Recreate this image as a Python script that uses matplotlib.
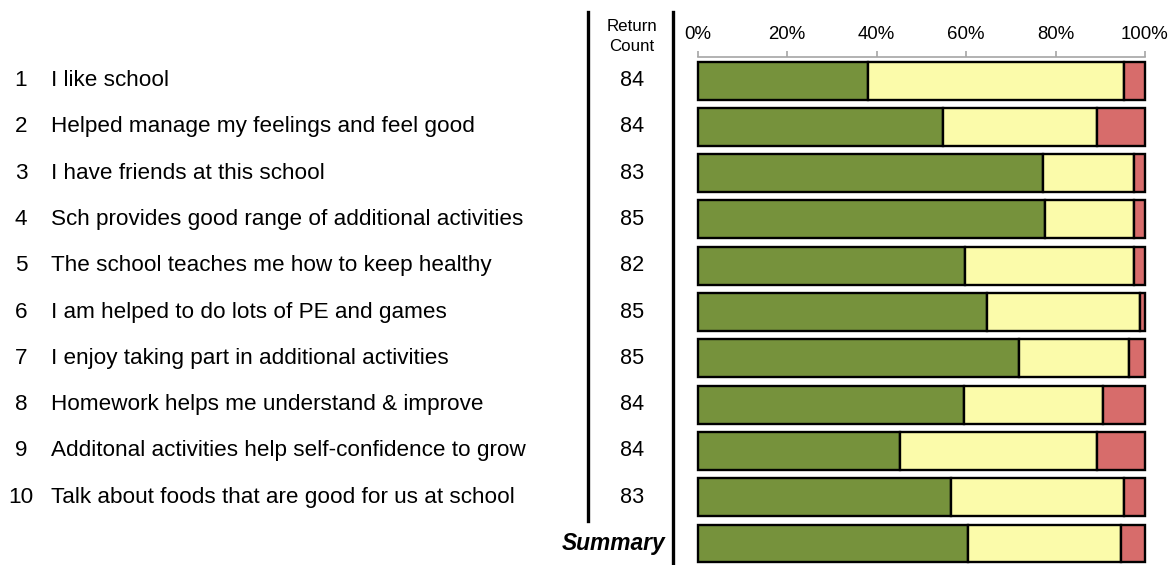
import matplotlib
matplotlib.use("Agg")
import matplotlib.pyplot as plt
from matplotlib.lines import Line2D
from matplotlib.transforms import blended_transform_factory

plt.rcParams["font.family"] = ["Liberation Sans", "DejaVu Sans"]

W, H = 1172, 565

labels = [
    "I like school",
    "Helped manage my feelings and feel good",
    "I have friends at this school",
    "Sch provides good range of additional activities",
    "The school teaches me how to keep healthy",
    "I am helped to do lots of PE and games",
    "I enjoy taking part in additional activities",
    "Homework helps me understand & improve",
    "Additonal activities help self-confidence to grow",
    "Talk about foods that are good for us at school",
]
counts = [84, 84, 83, 85, 82, 85, 85, 84, 84, 83]
# percentages per row, last entry = summary
agree = [38.1, 54.8, 77.1, 77.6, 59.8, 64.7, 71.8, 59.5, 45.2, 56.6, 60.4]
neutral = [57.1, 34.5, 20.5, 20.0, 37.8, 34.1, 24.7, 31.0, 44.0, 38.6, 34.2]
disagree = [4.8, 10.7, 2.4, 2.4, 2.4, 1.2, 3.5, 9.5, 10.8, 4.8, 5.4]

GREEN = "#76923c"
YELLOW = "#fbfbaa"
RED = "#d76c6b"
GREY = "#a6a6a6"

fig = plt.figure(figsize=(W / 100, H / 100), dpi=100)
ax = fig.add_axes([697.7 / W, 0.0, (1145 - 697.7) / W, 1 - 57 / H])

rows = list(range(len(agree)))
h = 0.82
ax.barh(rows, agree, height=h, color=GREEN, edgecolor="black", linewidth=1.7, clip_on=False)
ax.barh(rows, neutral, left=agree, height=h, color=YELLOW, edgecolor="black",
        linewidth=1.7, clip_on=False)
left2 = [a + n for a, n in zip(agree, neutral)]
ax.barh(rows, disagree, left=left2, height=h, color=RED, edgecolor="black",
        linewidth=1.7, clip_on=False)

ax.set_xlim(0, 100)
ax.set_ylim(10.464, -0.508)
ax.xaxis.tick_top()
ax.set_xticks([0, 20, 40, 60, 80, 100])
ax.set_xticklabels(["0%", "20%", "40%", "60%", "80%", "100%"], fontsize=13.4)
ax.tick_params(axis="x", direction="out", length=4, color=GREY, width=1.2, pad=6)
ax.set_yticks([])
for s in ["left", "right", "bottom"]:
    ax.spines[s].set_visible(False)
ax.spines["top"].set_color(GREY)
ax.spines["top"].set_linewidth(1.2)
ax.patch.set_alpha(0)

tr = blended_transform_factory(fig.transFigure, ax.transData)
for i, (lab, c) in enumerate(zip(labels, counts)):
    ax.text(21 / W, i, str(i + 1), transform=tr, ha="center", va="center", fontsize=16.2)
    ax.text(51 / W, i, lab, transform=tr, ha="left", va="center", fontsize=16.2)
    ax.text(632 / W, i, str(c), transform=tr, ha="center", va="center", fontsize=15.6)
ax.text(665 / W, len(labels), "Summary", transform=tr, ha="right", va="center",
        fontsize=16.4, fontweight="bold", fontstyle="italic")

fig.text(632 / W, 1 - 36.5 / H, "Return\nCount", ha="center", va="center",
         fontsize=12.2, linespacing=1.45)

fig.add_artist(Line2D([588.5 / W, 588.5 / W], [1 - 12 / H, 1 - 521 / H],
                      transform=fig.transFigure, color="black", lw=2.4))
fig.add_artist(Line2D([672.7 / W, 672.7 / W], [1 - 12 / H, 0],
                      transform=fig.transFigure, color="black", lw=2.4))

fig.savefig("out.png", dpi=100)
